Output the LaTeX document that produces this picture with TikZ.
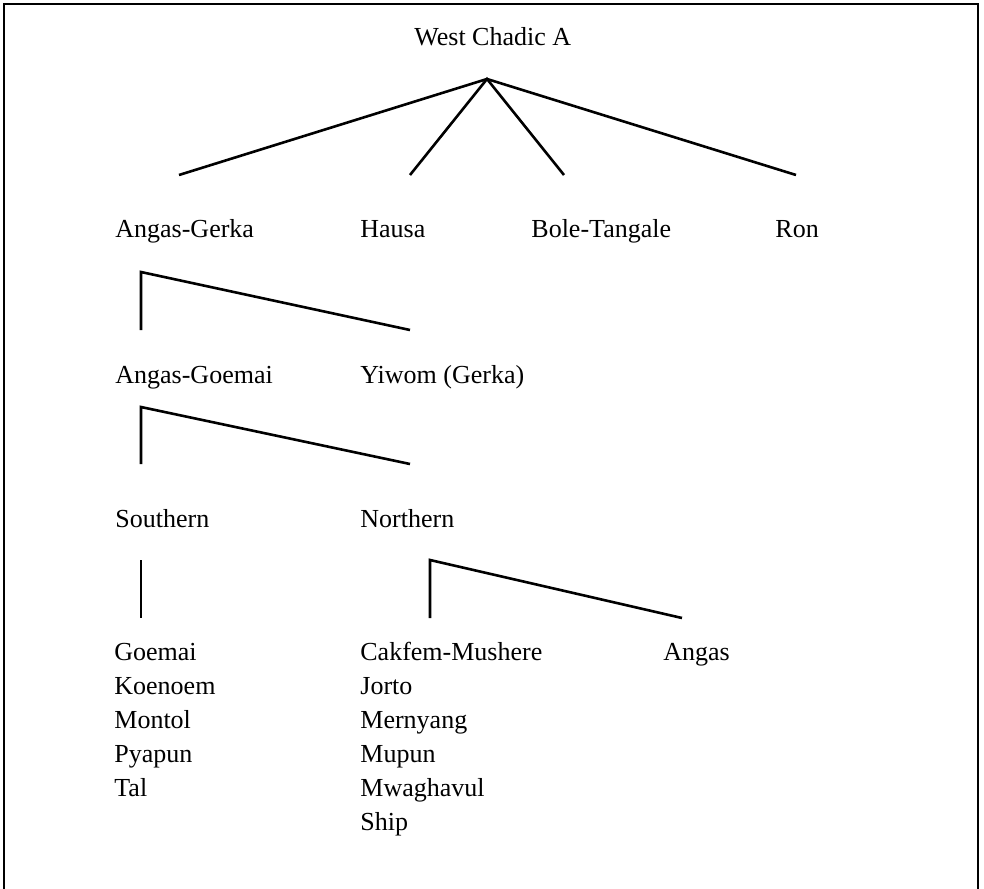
\documentclass[tikz,border=0pt]{standalone}
\usepackage{fontspec}
\setmainfont{Liberation Serif}
\usetikzlibrary{positioning}

\begin{document}
\begin{tikzpicture}[
	x=0.5pt,y=-0.5pt,
	lang/.style={
		anchor=base west,
		inner sep=0pt,
		font=\fontsize{13}{15}\selectfont
	},
	branch/.style={
		line width=1.3pt,
		line join=miter
	}
	]
	\useasboundingbox (0,0) rectangle (984,888);
	\draw[line width=1.1pt] (4,4) rectangle (978,900);
	
	% top level
	\node[lang] (wca) at (414,46) {West Chadic A};
	\coordinate (root) at (487,79);
	
	\node[lang] (ag) at (115,237) {Angas-Gerka};
	\node[lang] (hausa) at (360,237) {Hausa};
	\node[lang] (bt) at (531,237) {Bole-Tangale};
	\node[lang] (ron) at (775,237) {Ron};
	\coordinate (ag1) at (179,175);
	\coordinate (hausa1) at (410,175);
	\coordinate (bt1) at (564,175);
	\coordinate (ron1) at (796,175);
	
	% Angas-Gerka
	\node[lang] (agm) at (115,383) {Angas-Goemai};
	\node[lang] (yiwom) at (360,383) {Yiwom (Gerka)};
	\coordinate (f1) at (141,272);
	\coordinate (agm1) at (141,330);
	\coordinate (yiwom1) at (410,330);
	
	% Angas-Goemai
	\node[lang] (south) at (115,527) {Southern};
	\node[lang] (north) at (360,527) {Northern};
	\coordinate (f2) at (141,407);
	\coordinate (south1) at (141,464);
	\coordinate (north1) at (410,464);
	
	% Southern
	\node[lang] (goemai) at (114,660) {Goemai};
	\node[lang,below=17pt of goemai.base west,anchor=base west] (koenoem) {Koenoem};
	\node[lang,below=17pt of koenoem.base west,anchor=base west] (montol) {Montol};
	\node[lang,below=17pt of montol.base west,anchor=base west] (pyapun) {Pyapun};
	\node[lang,below=17pt of pyapun.base west,anchor=base west] (tal) {Tal};
	\coordinate (f3) at (141,560);
	\coordinate (goemai1) at (141,618);
	
	% Northern
	\node[lang] (cakfem) at (360,660) {Cakfem-Mushere};
	\node[lang,below=17pt of cakfem.base west,anchor=base west] (jorto) {Jorto};
	\node[lang,below=17pt of jorto.base west,anchor=base west] (mernyang) {Mernyang};
	\node[lang,below=17pt of mernyang.base west,anchor=base west] (mupun) {Mupun};
	\node[lang,below=17pt of mupun.base west,anchor=base west] (mwaghavul) {Mwaghavul};
	\node[lang,below=17pt of mwaghavul.base west,anchor=base west] (ship) {Ship};
	\node[lang] (angas) at (663,660) {Angas};
	\coordinate (f4) at (430,560);
	\coordinate (cakfem1) at (430,618);
	\coordinate (angas1) at (682,618);
	
	\draw[branch] (ag1) -- (root) -- (ron1);
	\draw[branch] (hausa1) -- (root) -- (bt1);
	\draw[branch] (agm1) -- (f1) -- (yiwom1);
	\draw[branch] (south1) -- (f2) -- (north1);
	\draw[branch] (f3) -- (goemai1);
	\draw[branch] (cakfem1) -- (f4) -- (angas1);
\end{tikzpicture}
\end{document}
